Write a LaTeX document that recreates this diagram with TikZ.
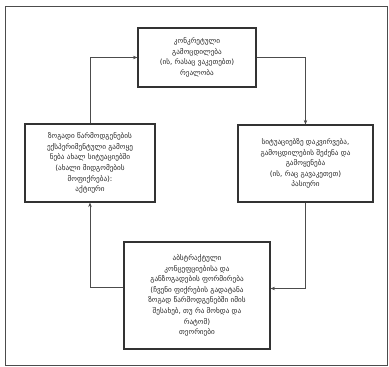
\documentclass[tikz,border=0pt]{standalone}
\usepackage{fontspec}
\newfontfamily\geo{DejaVu Sans}
\usetikzlibrary{arrows.meta}
\begin{document}
\begin{tikzpicture}[x=1pt,y=1pt,
  box/.style={draw=black!80, line width=1.1pt, align=center, inner sep=1pt,
    font=\geo\fontsize{7.2}{10.6}\selectfont, text=black!85},
  conn/.style={draw=black!70, line width=0.6pt, -{Stealth[length=4.5pt,width=3.5pt]}}]
\useasboundingbox (0,0) rectangle (389,-367);
\draw[black!70, line width=0.6pt] (5,-6) rectangle (387,-365);
\node[box, minimum width=118pt, minimum height=59pt] (top) at (197,-57.5)
  {კონკრეტული\\გამოცდილება\\(ის, რასაც ვაკეთებთ)\\რეალობა};
\node[box, minimum width=135pt, minimum height=77pt] (right) at (305.5,-163.5)
  {სიტუაციებზე დაკვირვება,\\გამოცდილების შეძენა და\\გამოყენება\\(ის, რაც გავაკეთეთ)\\პასიური};
\node[box, minimum width=130pt, minimum height=78pt] (left) at (90,-163)
  {ზოგადი წარმოდგენების\\ექსპერიმენტული გამოყე\\ნება ახალ სიტუაციებში\\(ახალი მიდგომების\\მოფიქრება):\\აქტიური};
\node[box, minimum width=146pt, minimum height=107pt] (bottom) at (197,-295.5)
  {აბსტრაქტული\\კონცეფციებისა და\\განზოგადების ფორმირება\\(ჩვენი ფიქრების გადატანა\\ზოგად წარმოდგენებში იმის\\შესახებ, თუ რა მოხდა და\\რატომ)\\თეორიები};
\draw[conn] (top.east) -| (right.north);
\draw[conn] (right.south) |- ([yshift=7pt]bottom.east);
\draw[conn] ([yshift=8pt]bottom.west) -| (left.south);
\draw[conn] (left.north) |- (top.west);
\end{tikzpicture}
\end{document}
